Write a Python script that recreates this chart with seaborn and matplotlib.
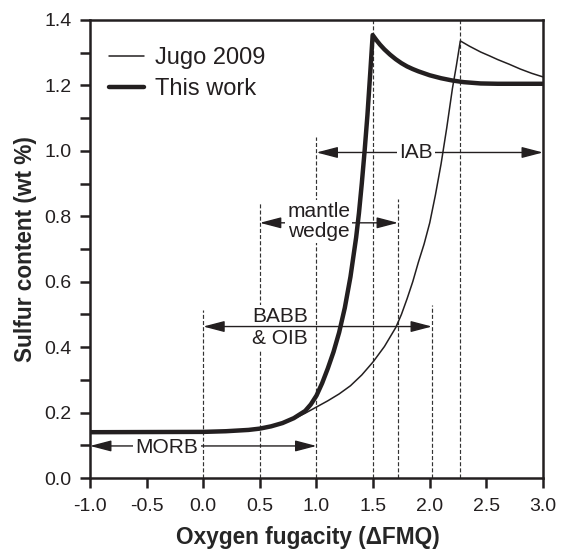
import matplotlib
matplotlib.use("Agg")
import matplotlib.pyplot as plt
from matplotlib.ticker import MultipleLocator, FormatStrFormatter
import pandas as pd
import seaborn as sns

# Sulfur content at sulfide/sulfate saturation vs. oxygen fugacity
this_work_fo2 = [-1.0, 0.0, 0.2, 0.4, 0.5, 0.6, 0.7, 0.8, 0.9, 0.95, 1.0, 1.05, 1.1,
                 1.15, 1.2, 1.25, 1.3, 1.35, 1.375, 1.4, 1.425, 1.45, 1.475, 1.496,
                 1.53, 1.56, 1.6, 1.65, 1.7, 1.75, 1.8, 1.85, 1.9, 1.95, 2.0, 2.1,
                 2.2, 2.3, 2.45, 2.6, 3.0]
this_work_s = [0.140, 0.141, 0.143, 0.147, 0.151, 0.158, 0.168, 0.183, 0.205, 0.225,
               0.252, 0.29, 0.335, 0.385, 0.445, 0.52, 0.615, 0.735, 0.81, 0.9, 1.0,
               1.11, 1.24, 1.354, 1.338, 1.325, 1.310, 1.294, 1.280, 1.268, 1.258,
               1.250, 1.243, 1.237, 1.231, 1.222, 1.215, 1.210, 1.206, 1.205, 1.205]

jugo_fo2 = [-1.0, 0.0, 0.2, 0.4, 0.5, 0.6, 0.7, 0.8, 0.9, 1.0, 1.1, 1.2, 1.3, 1.4,
            1.5, 1.6, 1.7, 1.75, 1.8, 1.85, 1.9, 1.95, 2.0, 2.05, 2.1, 2.15, 2.2,
            2.235, 2.27, 2.3, 2.35, 2.4, 2.45, 2.53, 2.6, 2.7, 2.8, 2.9, 3.0]
jugo_s = [0.140, 0.141, 0.143, 0.147, 0.151, 0.158, 0.168, 0.181, 0.198, 0.217,
          0.236, 0.257, 0.282, 0.315, 0.355, 0.402, 0.46, 0.50, 0.548, 0.60, 0.66,
          0.715, 0.78, 0.865, 0.96, 1.07, 1.19, 1.26, 1.336, 1.330, 1.320, 1.311,
          1.302, 1.290, 1.279, 1.265, 1.250, 1.237, 1.226]

# Redox ranges of the magma types
range_labels = ["MORB", "BABB\n& OIB", "mantle\nwedge", "IAB"]
range_start = [-1.0, 0.0, 0.5, 1.0]
range_end = [1.0, 2.02, 1.72, 3.0]
range_level = [0.098, 0.463, 0.78, 0.995]
label_x = [-0.32, 0.68, 1.02, 1.88]
label_y = [0.094, 0.459, 0.785, 0.995]

# Dashed guides bounding the ranges
guide_x = [0.0, 0.5, 1.0, 1.5, 1.72, 2.02, 2.27]
guide_top = [0.514, 0.842, 1.041, 1.4, 0.852, 0.530, 1.4]

ink = "#231f20"

sns.set_style("ticks")
plt.rcParams["font.family"] = ["Liberation Sans", "DejaVu Sans"]
plt.rcParams["axes.unicode_minus"] = False
plt.rcParams["text.color"] = ink

fig = plt.figure(figsize=(5.61, 5.49), dpi=100)
ax = fig.add_axes([0.1604, 0.1293, 0.8075, 0.8343])

ax.vlines(guide_x, 0, guide_top, colors="#333333", linewidth=0.85,
          linestyles=[(0, (3.4, 1.8))], zorder=1)

for i, lab in enumerate(range_labels):
    arrow_on_top = lab.startswith("BABB")
    ax.annotate("", xy=(range_end[i], range_level[i]),
                xytext=(range_start[i], range_level[i]),
                arrowprops=dict(arrowstyle="<|-|>,head_length=0.65,head_width=0.17",
                                mutation_scale=20, lw=1.0, color=ink,
                                shrinkA=0, shrinkB=0),
                zorder=4 if arrow_on_top else 2)
    ax.text(label_x[i], label_y[i], lab, ha="center", va="center", fontsize=15,
            linespacing=1.2 if arrow_on_top else 1.05,
            bbox=dict(fc="white", ec="none", pad=1.5), zorder=3)

jugo = pd.DataFrame({"fo2": jugo_fo2, "s": jugo_s})
this_work = pd.DataFrame({"fo2": this_work_fo2, "s": this_work_s})
sns.lineplot(data=jugo, x="fo2", y="s", ax=ax, color=ink, linewidth=1.1,
             label="Jugo 2009", zorder=5)
sns.lineplot(data=this_work, x="fo2", y="s", ax=ax, color=ink, linewidth=3.2,
             label="This work", zorder=6)

ax.set_xlim(-1.0, 3.0)
ax.set_ylim(0.0, 1.4)
ax.xaxis.set_major_locator(MultipleLocator(0.5))
ax.yaxis.set_major_locator(MultipleLocator(0.2))
ax.yaxis.set_minor_locator(MultipleLocator(0.1))
ax.xaxis.set_major_formatter(FormatStrFormatter("%.1f"))
ax.yaxis.set_major_formatter(FormatStrFormatter("%.1f"))
ax.tick_params(which="both", direction="out", length=7, width=1.8, color=ink,
               labelsize=14, labelcolor=ink)
ax.tick_params(axis="x", pad=7.5)
ax.tick_params(axis="y", pad=6.2)

for sp in ax.spines.values():
    sp.set_visible(True)
    sp.set_linewidth(1.8)
    sp.set_color(ink)

ax.set_xlabel("Oxygen fugacity (\u0394FMQ)", fontsize=16.3, fontweight="bold",
              labelpad=5)
ax.xaxis.set_label_coords(0.482, -0.105)
ax.set_ylabel("Sulfur content (wt %)", fontsize=16.3, fontweight="bold",
              labelpad=5)

ax.legend(loc="upper left", bbox_to_anchor=(0.042, 0.940), frameon=False,
          fontsize=17, handlelength=1.5, handletextpad=0.45, borderaxespad=0,
          borderpad=0, labelspacing=0.37)

fig.savefig("out.png", dpi=100)
